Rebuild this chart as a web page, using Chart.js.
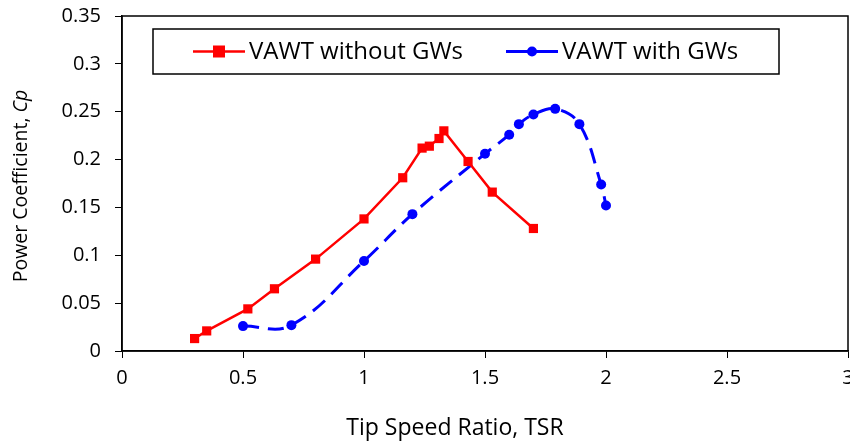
<!DOCTYPE html>
<html lang="en">
<head>
  <meta charset="UTF-8">
  <title>Power Coefficient vs TSR</title>
  <script src="https://cdn.jsdelivr.net/npm/chart.js"></script>
  <style>
    body { margin: 0; background: #fff; }
    #cpChart { display: block; }
  </style>
</head>
<body>
  <canvas id="cpChart" width="850" height="443" style="width: 850px; height: 443px;"></canvas>
  <script>
    // data
    var tsrNoGW = [0.30, 0.35, 0.52, 0.63, 0.80, 1.00, 1.16, 1.24, 1.27, 1.31, 1.33, 1.43, 1.53, 1.70];
    var cpNoGW = [0.013, 0.021, 0.044, 0.065, 0.096, 0.138, 0.181, 0.212, 0.214, 0.222, 0.230, 0.198, 0.166, 0.128];
    var tsrGW = [0.50, 0.70, 1.00, 1.20, 1.50, 1.60, 1.64, 1.70, 1.79, 1.89, 1.98, 2.00];
    var cpGW = [0.026, 0.027, 0.094, 0.143, 0.206, 0.226, 0.237, 0.247, 0.253, 0.237, 0.174, 0.152];
    var seriesNames = ['VAWT without GWs', 'VAWT with GWs'];

    var fontFamily = '"Open Sans", "Noto Sans", sans-serif';

    function toPoints(xs, ys) {
      return xs.map(function (x, i) { return { x: x, y: ys[i] }; });
    }

    function plainTick(value) {
      return String(+value.toFixed(2));
    }

    // frame around plot, axis titles (italic Cp), boxed legend
    var decor = {
      id: 'decor',
      afterDraw: function (chart) {
        var ctx = chart.ctx;
        var a = chart.chartArea;
        ctx.save();
        ctx.strokeStyle = '#000';
        ctx.lineWidth = 1.5;
        ctx.strokeRect(a.left, a.top, a.right - a.left, a.bottom - a.top);

        // x title (sits left of centre in the original)
        ctx.fillStyle = '#000';
        ctx.font = '23px ' + fontFamily;
        ctx.textAlign = 'center';
        ctx.textBaseline = 'middle';
        ctx.fillText('Tip Speed Ratio, TSR', 455, 428);

        // y title
        ctx.translate(21, 186);
        ctx.rotate(-Math.PI / 2);
        var part1 = 'Power Coefficient, ';
        ctx.font = 'italic 19.5px ' + fontFamily;
        var w2 = ctx.measureText('Cp').width;
        ctx.font = '19.5px ' + fontFamily;
        var w1 = ctx.measureText(part1).width;
        var start = -(w1 + w2) / 2;
        ctx.textAlign = 'left';
        ctx.fillText(part1, start, 0);
        ctx.font = 'italic 19.5px ' + fontFamily;
        ctx.fillText('Cp', start + w1, 0);
        ctx.restore();

        // legend
        ctx.save();
        ctx.strokeStyle = '#000';
        ctx.lineWidth = 1.5;
        ctx.strokeRect(153, 29, 626, 45);
        var items = [
          { x: 193, ds: chart.data.datasets[0] },
          { x: 506, ds: chart.data.datasets[1] }
        ];
        var cy = 51.5;
        items.forEach(function (it) {
          var ds = it.ds;
          ctx.strokeStyle = ds.borderColor;
          ctx.lineWidth = ds.borderWidth;
          ctx.beginPath();
          ctx.moveTo(it.x, cy);
          ctx.lineTo(it.x + 52, cy);
          ctx.stroke();
          ctx.fillStyle = ds.pointBackgroundColor;
          if (ds.pointStyle === 'rect') {
            ctx.fillRect(it.x + 26 - 6, cy - 6, 12, 12);
          } else {
            ctx.beginPath();
            ctx.arc(it.x + 26, cy, 5, 0, Math.PI * 2);
            ctx.fill();
          }
          ctx.fillStyle = '#000';
          ctx.font = '24px ' + fontFamily;
          ctx.textAlign = 'left';
          ctx.textBaseline = 'middle';
          ctx.fillText(ds.label, it.x + 56, cy + 1);
        });
        ctx.restore();
      }
    };

    var config = {
      type: 'line',
      data: {
        datasets: [
          {
            label: seriesNames[0],
            data: toPoints(tsrNoGW, cpNoGW),
            borderColor: '#ff0000',
            backgroundColor: '#ff0000',
            pointBackgroundColor: '#ff0000',
            pointBorderColor: '#ff0000',
            borderWidth: 2.5,
            pointStyle: 'rect',
            pointRadius: 6.5,
            pointBorderWidth: 0,
            tension: 0,
            fill: false
          },
          {
            label: seriesNames[1],
            data: toPoints(tsrGW, cpGW),
            borderColor: '#0000ff',
            backgroundColor: '#0000ff',
            pointBackgroundColor: '#0000ff',
            pointBorderColor: '#0000ff',
            borderWidth: 3,
            borderDash: [16, 9],
            pointStyle: 'circle',
            pointRadius: 5,
            pointBorderWidth: 0,
            tension: 0.4,
            fill: false
          }
        ]
      },
      options: {
        responsive: false,
        animation: false,
        layout: { autoPadding: false, padding: { top: 16, right: 2, left: 0, bottom: 0 } },
        plugins: {
          legend: { display: false },
          tooltip: { enabled: false }
        },
        scales: {
          x: {
            type: 'linear',
            min: 0,
            max: 3,
            afterFit: function (s) {
              s.height = 92;
              s.paddingLeft = 0;
              s.paddingRight = 0;
            },
            border: { display: true, color: '#000', width: 1.5 },
            grid: { drawOnChartArea: false, color: '#000', tickLength: 7 },
            ticks: {
              stepSize: 0.5,
              color: '#000',
              padding: 8,
              callback: plainTick,
              font: { family: fontFamily, size: 20 }
            }
          },
          y: {
            min: 0,
            max: 0.35,
            afterFit: function (s) {
              s.width = 122;
              s.paddingTop = 0;
              s.paddingBottom = 0;
            },
            border: { display: true, color: '#000', width: 1.5 },
            grid: { drawOnChartArea: false, color: '#000', tickLength: 7 },
            ticks: {
              stepSize: 0.05,
              color: '#000',
              padding: 14,
              callback: plainTick,
              font: { family: fontFamily, size: 20 }
            }
          }
        }
      },
      plugins: [decor]
    };

    var cpChart = new Chart(document.getElementById('cpChart'), config);
  </script>
</body>
</html>
